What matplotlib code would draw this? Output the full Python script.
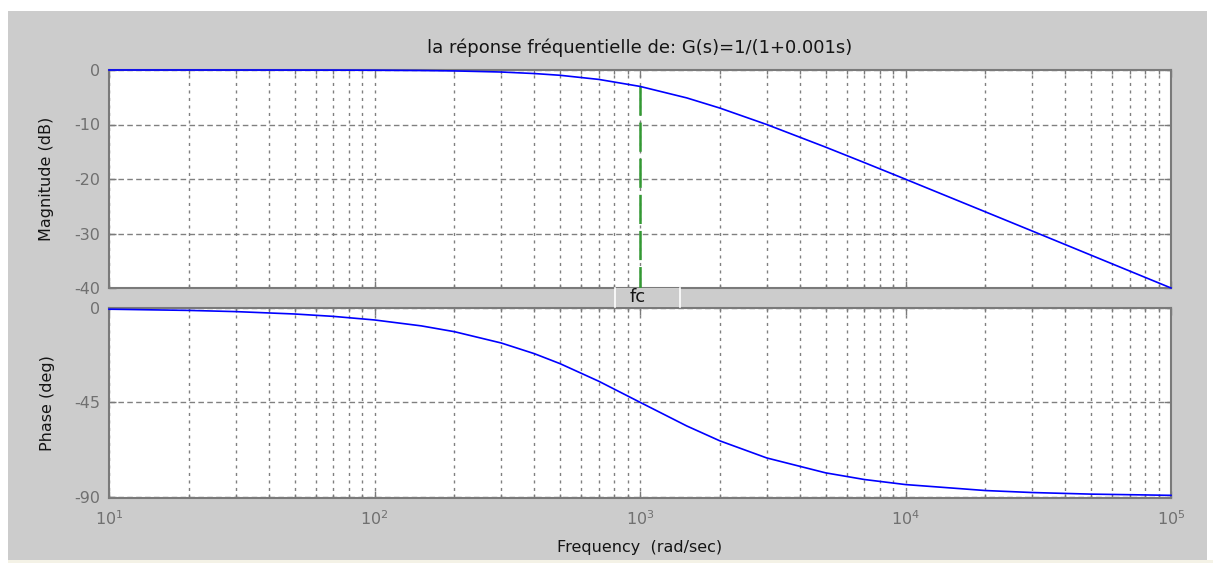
import matplotlib
matplotlib.use("Agg")
import matplotlib.pyplot as plt
from matplotlib.patches import Rectangle
from matplotlib.lines import Line2D
from matplotlib.ticker import LogLocator, NullFormatter, FixedLocator

plt.rcParams['font.family'] = ['DejaVu Sans']
plt.rcParams['lines.scale_dashes'] = False
plt.rcParams['axes.unicode_minus'] = False

# Frequency response samples of G(s) = 1/(1+0.001s)
freq = [10, 20, 30, 50, 70, 100, 150, 200, 300, 400, 500, 700, 1000,
        1500, 2000, 3000, 5000, 7000, 10000, 20000, 30000, 50000, 100000]
magnitude_db = [0.0, 0.0, -0.004, -0.011, -0.021, -0.043, -0.097, -0.17, -0.37,
                -0.65, -0.97, -1.73, -3.01, -5.12, -6.99, -10.0, -14.15, -16.99,
                -20.04, -26.03, -29.54, -33.98, -40.0]
phase_deg = [-0.57, -1.15, -1.72, -2.86, -4.0, -5.71, -8.53, -11.31, -16.7,
             -21.8, -26.57, -34.99, -45.0, -56.31, -63.43, -71.57, -78.69,
             -81.87, -84.29, -87.14, -88.09, -88.85, -89.43]

fc = 1000
fc_mag = -3.01
mag_ticks = [0, -10, -20, -30, -40]
phase_ticks = [0, -45, -90]

title_text = "la réponse fréquentielle de: G(s)=1/(1+0.001s)"

W, H = 1213, 563
fig = plt.figure(figsize=(W / 100, H / 100), dpi=100, facecolor='white')

def fx(px):
    return px / W

def fy(py):
    return 1 - py / H

# window background
fig.patches.append(Rectangle((fx(8), fy(560)), fx(1207) - fx(8), fy(11) - fy(560),
                             transform=fig.transFigure, facecolor='#cccccc',
                             edgecolor='none', zorder=-10))
fig.patches.append(Rectangle((fx(8), 0), 1 - fx(8), fy(560),
                             transform=fig.transFigure, facecolor='#f4f2e6',
                             edgecolor='none', zorder=-10))

left, right = 109, 1171
ax1 = fig.add_axes([fx(left), fy(288), fx(right) - fx(left), fy(70) - fy(288)])
ax2 = fig.add_axes([fx(left), fy(498), fx(right) - fx(left), fy(308) - fy(498)])

edge = '#7a7a7a'
tick_col = '#707070'
grid_col = '#808080'
label_col = '#151515'
fs_tick = 11.5
fs_label = 11.5

for ax in (ax1, ax2):
    ax.set_xscale('log')
    ax.set_xlim(10, 1e5)
    ax.set_facecolor('white')
    for sp in ax.spines.values():
        sp.set_color(edge)
        sp.set_linewidth(1.5)
    ax.xaxis.set_major_locator(LogLocator(base=10, numticks=10))
    ax.xaxis.set_minor_locator(LogLocator(base=10, subs=range(2, 10), numticks=20))
    ax.xaxis.set_minor_formatter(NullFormatter())
    ax.tick_params(which='both', direction='in', top=True, right=True,
                   colors=edge, labelcolor=tick_col, labelsize=fs_tick)
    ax.tick_params(which='major', length=5, width=1)
    ax.tick_params(which='minor', length=3, width=1)
    ax.tick_params(axis='y', pad=6.5)
    ax.grid(True, which='both', axis='x', color=grid_col, linewidth=1.0,
            linestyle=(0, (2.2, 3.2)))
    ax.grid(True, which='major', axis='y', color=grid_col, linewidth=1.0,
            linestyle=(0, (4, 2.4)))
    ax.set_axisbelow(True)

# magnitude
ax1.plot(freq, magnitude_db, color='#0000ff', linewidth=1.2, zorder=5, clip_on=False)
ax1.set_ylim(-40, 0)
ax1.yaxis.set_major_locator(FixedLocator(mag_ticks))
ax1.tick_params(axis='x', labelbottom=False)
ax1.set_ylabel('Magnitude (dB)', fontsize=fs_label, color=label_col, labelpad=14)
ax1.set_title(title_text, fontsize=13, color=label_col, pad=12)
ax1.plot([fc, fc], [fc_mag, -40], color='#339933', linewidth=1.8,
         linestyle=(0, (21, 5)), zorder=4)

# phase
ax2.plot(freq, phase_deg, color='#0000ff', linewidth=1.2, zorder=5, clip_on=False)
ax2.set_ylim(-90.7, 0)
ax2.yaxis.set_major_locator(FixedLocator(phase_ticks))
ax2.set_ylabel('Phase (deg)', fontsize=fs_label, color=label_col, labelpad=14)
ax2.set_xlabel('Frequency  (rad/sec)', fontsize=fs_label, color=label_col, labelpad=9)
ax2.tick_params(axis='x', pad=8)

# cutoff frequency marker between the two axes
fig.patches.append(Rectangle((fx(615), fy(307)), fx(680) - fx(615), fy(288) - fy(307),
                             transform=fig.transFigure, facecolor='#cccccc',
                             edgecolor='none', zorder=10))
for xe in (615, 680):
    fig.lines.append(Line2D([fx(xe), fx(xe)], [fy(307), fy(288)],
                            transform=fig.transFigure, color='white',
                            linewidth=1.2, zorder=11))
fig.text(fx(638), fy(297.5), 'fc', fontsize=13, color=label_col,
         ha='center', va='center', zorder=12)

fig.savefig('out.png', dpi=100, facecolor='white')
